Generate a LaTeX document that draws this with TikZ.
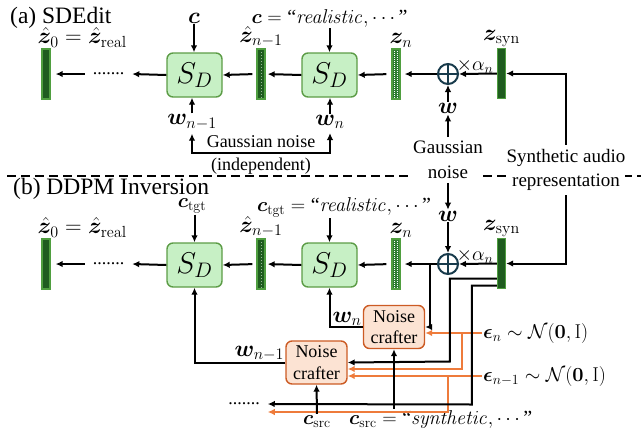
\RequirePackage{fix-cm}
\documentclass[tikz,border=0pt]{standalone}
\usepackage{amsmath}
\usepackage[no-math]{fontspec}
\setmainfont{Liberation Serif}
\usepackage{bm}
\usetikzlibrary{positioning, arrows.meta}

\definecolor{bardark}{HTML}{1F5C1F}
\definecolor{barmid}{HTML}{2E7D32}
\definecolor{baredge}{HTML}{4F9E3F}
\definecolor{sdfill}{HTML}{C7F0C5}
\definecolor{sdedge}{HTML}{5C9C46}
\definecolor{ncfill}{HTML}{FCE3D3}
\definecolor{ncedge}{HTML}{CC5B24}
\definecolor{wireorange}{HTML}{EE7B3B}
\definecolor{sumedge}{HTML}{173A4B}

\newcommand{\titlesize}{\fontsize{23.5}{26}\selectfont}
\newcommand{\txtsize}{\fontsize{18}{21.5}\selectfont}
\newcommand{\sidesize}{\fontsize{19}{24.5}\selectfont}
\newcommand{\mathsize}{\fontsize{23}{26}\selectfont}
\newcommand{\quotesize}{\fontsize{20}{24}\selectfont}
\newcommand{\sdsize}{\fontsize{30}{32}\selectfont}

\tikzset{
	tip/.tip={Latex[length=7pt,width=6.5pt]},
	arr/.style={-tip, line width=2pt},
	oarr/.style={arr, draw=wireorange, color=wireorange},
	bar/.style={draw=baredge, fill=bardark, line width=1.3pt, minimum width=8pt, minimum height=50pt, inner sep=0pt},
	dimbar/.style={bar, path picture={\draw[white!55!bardark, line width=0.8pt, dash pattern=on 1pt off 2pt] (path picture bounding box.north) -- (path picture bounding box.south);}},
	noisybar/.style={bar, fill=barmid, path picture={\foreach \dx in {-1.6,1.6}{\draw[white, line width=1.2pt, dash pattern=on 1pt off 1pt] ([xshift=\dx pt]path picture bounding box.north) -- ([xshift=\dx pt]path picture bounding box.south);}}},
	sdbox/.style={draw=sdedge, fill=sdfill, line width=1.4pt, rounded corners=6pt, minimum width=55pt, minimum height=44pt, font=\sdsize},
	crafter/.style={draw=ncedge, fill=ncfill, line width=1.4pt, rounded corners=6pt, minimum width=61pt, minimum height=43pt, align=center, inner sep=1pt, font=\txtsize},
	sum/.style={circle, draw=sumedge, fill=white, line width=2pt, minimum size=20pt, inner sep=0pt, path picture={\draw[sumedge, line width=1.4pt] (path picture bounding box.north) -- (path picture bounding box.south) (path picture bounding box.west) -- (path picture bounding box.east);}},
	mlab/.style={inner sep=1pt, font=\mathsize},
	qlab/.style={inner sep=1pt, font=\quotesize},
	dotrow/.style={inner sep=0pt, outer xsep=8pt, font=\txtsize},
	dashline/.style={line width=1.8pt, dash pattern=on 9pt off 5pt},
	sidebox/.style={font=\sidesize, align=center, fill=white, inner xsep=0pt, inner ysep=4pt},
}

\begin{document}
\begin{tikzpicture}[x=1pt, y=-1pt]
	\useasboundingbox (0,0) rectangle (641,432);

	% separator between (a) and (b)
	\coordinate (sepl) at (7,176);
	\coordinate (sepr) at (641,176);
	\draw[dashline] (sepl) -- (sepr);

	% (a) SDEdit
	\node[anchor=base west, font=\titlesize, inner sep=0pt] (atitle) at (10,23) {(a) SDEdit};
	\node[bar] (a0) at (46,74) {};
	\node[dotrow] (adots) at (108.5,74) {.......};
	\node[sdbox] (asd1) at (194.5,75) {$S_D$};
	\node[dimbar] (a1) at (261,74) {};
	\node[sdbox] (asd2) at (329.5,75) {$S_D$};
	\node[noisybar] (an) at (396,74) {};
	\node[sum] (aplus) at (448,74) {};
	\node[bar] (asyn) at (501.5,73.5) {};

	\node[mlab, anchor=south west] at ([xshift=-5pt]a0.north west) {$\hat{\bm z}_0=\hat{\bm z}_{\mathrm{real}}$};
	\node[mlab, above=0pt of a1] {$\hat{\bm z}_{n-1}$};
	\node[mlab, above=0pt of an, xshift=5pt] {$\bm z_n$};
	\node[mlab, above=0pt of asyn] {$\bm z_{\mathrm{syn}}$};
	\node[qlab] at ([shift={(27,-8)}]aplus) {$\times\alpha_n$};

	\node[mlab] (ac1) at (194,18) {$\bm c$};
	\node[qlab] (ac2) at (329.5,18) {$\bm c=\text{“}\mathit{realistic},\cdots\text{”}$};
	\node[mlab] (aw1) at (192,122) {$\bm w_{n-1}$};
	\node[mlab] (aw2) at (330,122) {$\bm w_n$};
	\node[mlab] (aw) at (448,108) {$\bm w$};
	\node[font=\txtsize, inner sep=1pt] (agn) at (261,142) {Gaussian noise};
	\node[font=\txtsize, inner sep=1pt] (aind) at (261,166) {(independent)};
	\coordinate (abr) at (261,153);

	\draw[arr] (asyn.west) -- (aplus.east);
	\draw[arr, shorten >=4pt] (aplus.west) -- (an.east);
	\draw[arr, shorten <=5pt] (an.west) -- (asd2.east);
	\draw[arr, shorten >=2pt] (asd2.west) -- (a1.east);
	\draw[arr, shorten <=4pt] (a1.west) -- (asd1.east);
	\draw[arr] (asd1.west) -- (adots.east);
	\draw[arr, shorten >=5pt] (adots.west) -- (a0.east);
	\draw[arr] (ac1.south) -- (ac1.south |- asd1.north);
	\draw[arr] (ac2.south) -- (asd2.north);
	\draw[arr] (aw1) -- (aw1 |- asd1.south);
	\draw[arr] (aw2) -- (aw2 |- asd2.south);
	\draw[tip-tip, line width=2pt, shorten <=3pt, shorten >=3pt] (aw1.south) |- (abr) -| (aw2.south);
	\draw[arr] (aw) -- (aplus.south);

	% shared inputs
	\node[sidebox] (gn) at (448,160) {Gaussian\\noise};
	\node[sidebox] (sar) at (566,170) {Synthetic audio\\representation};

	% (b) DDPM Inversion
	\node[anchor=base west, font=\titlesize, inner sep=0pt] (btitle) at (13,194) {(b) DDPM Inversion};
	\node[bar] (b0) at (46,264) {};
	\node[dotrow] (bdots) at (108.5,264) {.......};
	\node[sdbox] (bsd1) at (194.5,265) {$S_D$};
	\node[dimbar] (b1) at (261,264) {};
	\node[sdbox] (bsd2) at (329.5,265) {$S_D$};
	\node[noisybar] (bn) at (396,264) {};
	\node[sum] (bplus) at (448,264) {};
	\node[bar] (bsyn) at (501.5,263.5) {};

	\node[mlab, anchor=south west] at ([xshift=-5pt]b0.north west) {$\hat{\bm z}_0=\hat{\bm z}_{\mathrm{real}}$};
	\node[mlab, above=0pt of b1] {$\hat{\bm z}_{n-1}$};
	\node[mlab, above=0pt of bn, xshift=5pt] {$\bm z_n$};
	\node[mlab, above=0pt of bsyn] {$\bm z_{\mathrm{syn}}$};
	\node[qlab] at ([shift={(27,-8)}]bplus) {$\times\alpha_n$};

	\node[qlab] (bc1) at (192,206) {$\bm c_{\mathrm{tgt}}$};
	\node[qlab] (bc2) at (344,207) {$\bm c_{\mathrm{tgt}}=\text{“}\mathit{realistic},\cdots\text{”}$};
	\node[mlab] (bw) at (448,216) {$\bm w$};

	\node[crafter] (nc1) at (394,327) {Noise\\crafter};
	\node[crafter] (nc2) at (316.5,362.5) {Noise\\crafter};
	\node[dotrow] (ldots) at (244,404) {.......};
	\node[qlab, anchor=west] (epsn) at (482,333) {$\bm\epsilon_n\sim\mathcal{N}(\mathbf{0},\mathrm{I})$};
	\node[qlab, anchor=west] (epsm) at (482,376) {$\bm\epsilon_{n-1}\sim\mathcal{N}(\mathbf{0},\mathrm{I})$};
	\node[qlab, anchor=base] (cs1) at (317,424) {$\bm c_{\mathrm{src}}$};
	\node[qlab, anchor=base west] (cs2) at (348,424) {$\bm c_{\mathrm{src}}=\text{“}\mathit{synthetic},\cdots\text{”}$};
	\coordinate (tapn) at (430,264);

	\draw[arr] (bsyn.west) -- (bplus.east);
	\draw[arr, shorten >=4pt] (bplus.west) -- (bn.east);
	\draw[arr, shorten <=5pt] (bn.west) -- (bsd2.east);
	\draw[arr, shorten >=2pt] (bsd2.west) -- (b1.east);
	\draw[arr, shorten <=4pt] (b1.west) -- (bsd1.east);
	\draw[arr] (bsd1.west) -- (bdots.east);
	\draw[arr, shorten >=5pt] (bdots.west) -- (b0.east);
	\draw[arr] (bc1.south -| bsd1.north) -- (bsd1.north);
	\draw[arr] (bc2.south -| bsd2.north) -- (bsd2.north);
	\draw[arr] (bw) -- (bplus.north);

	% inputs from the middle
	\draw[arr] (gn.north) -- (aw);
	\draw[arr] (gn.south) -- (bw);
	\draw[arr] (sar.north) |- (asyn.east);
	\draw[arr] (sar.south) |- (bsyn.east);

	% noise crafters
	\draw[oarr] (epsn.west) -- (epsn.west -| nc1.east);
	\draw[oarr] ([xshift=-20pt]epsn.west) |- ([yshift=-6.5pt]nc2.east);
	\draw[oarr] (epsm.west) -- (epsm.west -| nc2.east);
	\draw[oarr] ([xshift=-34pt]epsm.west) |- ([yshift=-8pt]ldots.east);
	\draw[arr] (tapn) |- (nc1.east);
	\draw[arr] ([yshift=-15pt]bsyn.west) -| ++(-47,83) -- (nc2.east);
	\draw[arr] ([yshift=-22pt]bsyn.west) -| ++(-25,119) -- (ldots.east);
	\draw[arr] (nc1.west) -| (bsd2.south);
	\draw[arr] (nc2.west) -| (bsd1.south);
	\node[mlab, anchor=south east] at (nc1.west) {$\bm w_n$};
	\node[mlab, anchor=south east] at (nc2.west) {$\bm w_{n-1}$};
	\draw[arr] (cs1.north) -- (nc2.south);
	\draw[arr] (cs2.north -| nc1.south) -- (nc1.south);
\end{tikzpicture}
\end{document}
